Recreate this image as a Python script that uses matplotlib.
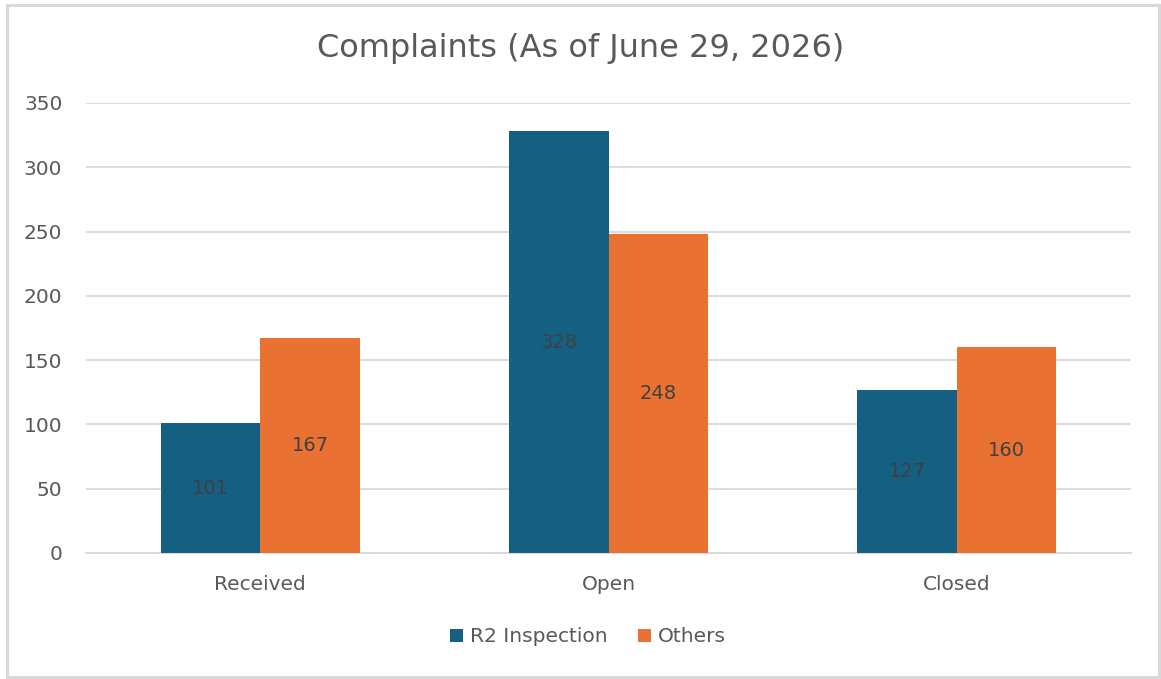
import matplotlib.pyplot as plt
import numpy as np
from matplotlib.patches import Rectangle

categories = ["Received", "Open", "Closed"]
r2_inspection = [101, 328, 127]
others = [167, 248, 160]
y_ticks = [0, 50, 100, 150, 200, 250, 300, 350]

BLUE = "#156082"
ORANGE = "#E97132"
GRID = "#D9D9D9"
TEXT = "#595959"
LABEL = "#404040"

plt.rcParams["font.family"] = ["DejaVu Sans"]

fig = plt.figure(figsize=(11.61, 6.79), dpi=100)
ax = fig.add_axes([86 / 1161, 1 - 553 / 679, 1045 / 1161, 450 / 679])

x = np.arange(len(categories))
width = 0.286
b1 = ax.bar(x - width / 2, r2_inspection, width, color=BLUE, label="R2 Inspection", zorder=3)
b2 = ax.bar(x + width / 2, others, width, color=ORANGE, label="Others", zorder=3)

for bars in (b1, b2):
    for rect in bars:
        h = rect.get_height()
        ax.text(rect.get_x() + rect.get_width() / 2, h / 2, f"{h:.0f}",
                ha="center", va="center", fontsize=14, color=LABEL, zorder=4)

ax.set_xlim(-0.5, 2.5)
ax.set_ylim(0, 350)
ax.set_yticks(y_ticks)
ax.set_xticks(x)
ax.set_xticklabels(categories)
ax.tick_params(axis="both", length=0, labelsize=14.5, colors=TEXT)
ax.tick_params(axis="y", pad=17)
ax.tick_params(axis="x", pad=16)
ax.yaxis.grid(True, color=GRID, linewidth=1.3, zorder=0)
for side in ("top", "right", "left"):
    ax.spines[side].set_visible(False)
ax.spines["bottom"].set_color(GRID)
ax.spines["bottom"].set_linewidth(1.3)

fig.text(0.5, 1 - 49 / 679, "Complaints (As of June 29, 2026)", ha="center", va="center",
         fontsize=23, color=TEXT)

fig.legend(handles=[b1, b2], loc="center", bbox_to_anchor=(588 / 1161, 1 - 637 / 679),
           ncol=2, frameon=False, fontsize=14.5, labelcolor=TEXT, handlelength=0.65,
           handleheight=0.65, handletextpad=0.35, columnspacing=1.5)

fig.patches.append(Rectangle((7 / 1161, 2 / 679), 1152 / 1161, 672 / 679, transform=fig.transFigure,
                             fill=False, edgecolor=GRID, linewidth=2.2))

fig.savefig("out.png", dpi=100, facecolor="white")
